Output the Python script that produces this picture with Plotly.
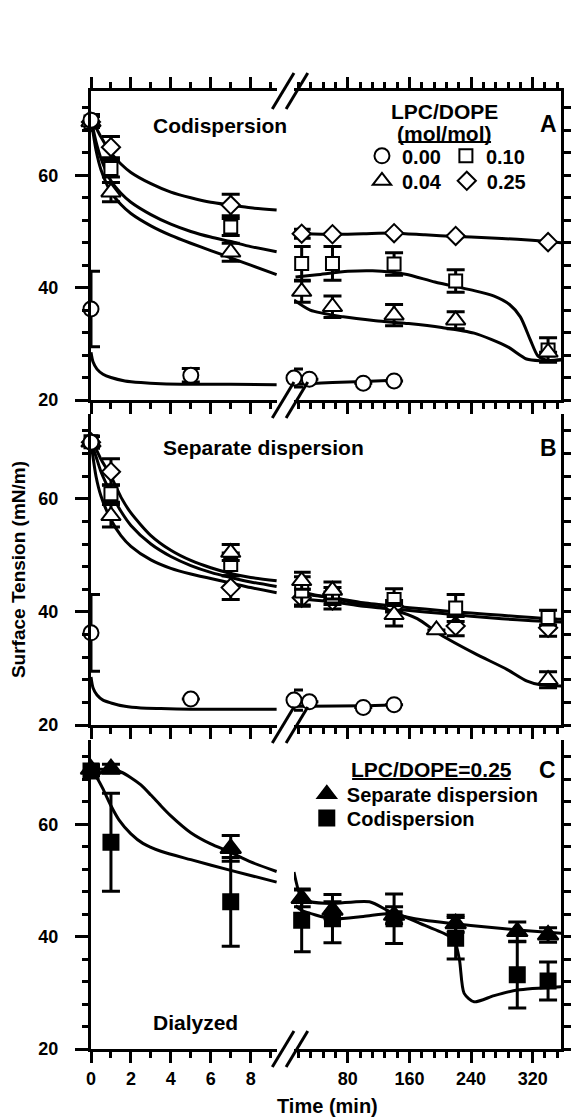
import plotly.graph_objects as go

# ---------------- DATA ----------------
# Panel A: Codispersion (LPC/DOPE mol/mol)
A_T_000 = [0, 0, 5, 10, 30, 100, 140]
A_V_000 = [69.8, 36.2, 24.4, 23.9, 23.7, 23.0, 23.4]
A_E_000 = [1.0, 6.7, 1.2, 1.6, None, None, None]
A_T = [0, 1, 7, 20, 60, 140, 220, 340]
A_V_004 = [69.5, 57.0, 46.3, 39.3, 36.6, 35.1, 34.2, 28.5]
A_E_004 = [1.0, 1.7, 1.6, 1.9, 1.9, 1.9, 1.5, None]
A_V_010 = [69.5, 61.2, 50.8, 44.3, 44.3, 44.2, 41.2, 28.9]
A_E_010 = [1.0, 1.5, 1.5, 3.0, 3.0, 2.0, 2.0, 2.2]
A_V_025 = [69.5, 65.0, 54.7, 49.6, 49.5, 49.7, 49.2, 48.1]
A_E_025 = [1.0, 1.9, 1.9, 0.8, None, None, None, None]

# fitted curves, panel A
CT_L = [0, 0.25, 0.5, 1, 1.5, 2, 3, 4, 5, 6, 7, 8, 9.3]
A_CT_000_L = [0, 0.1, 0.3, 0.6, 1, 1.7, 2.5, 3.5, 5, 7, 9.3]
A_CV_000_L = [28.5, 26.8, 25.5, 24.6, 24.0, 23.4, 23.1, 22.9, 22.8, 22.8, 22.7]
A_CT_000_R = [10, 30, 60, 100, 140]
A_CV_000_R = [22.8, 22.9, 23.1, 23.3, 23.5]
A_CV_025_L = [70, 68.5, 66.8, 64.0, 62.0, 60.5, 58.5, 57.0, 56.0, 55.2, 54.7, 54.2, 53.8]
A_CV_010_L = [70, 66.0, 63.0, 59.0, 56.8, 55.2, 53.0, 51.3, 50.0, 49.0, 48.2, 47.3, 46.4]
A_CV_004_L = [70, 64.5, 61.0, 57.0, 54.8, 53.2, 51.0, 49.3, 47.9, 46.6, 45.3, 44.0, 42.3]
A_CT_025_R = [12, 20, 60, 100, 140, 180, 220, 260, 300, 340, 357]
A_CV_025_R = [49.9, 49.7, 49.5, 49.6, 49.7, 49.4, 49.1, 48.9, 48.6, 48.2, 48.0]
A_CT_010_R = [12, 40, 80, 112, 155, 193, 240, 270, 290, 304, 317, 327, 340, 357]
A_CV_010_R = [41.9, 42.3, 42.9, 43.0, 42.4, 41.0, 39.6, 38.5, 37.0, 34.8, 30.7, 27.8, 27.0, 27.2]
A_CT_004_R = [10, 31, 74, 116, 159, 202, 244, 287, 312, 330, 357]
A_CV_004_R = [37.8, 36.0, 34.8, 34.1, 33.6, 32.9, 31.9, 29.5, 27.3, 27.0, 27.1]

# Panel B: Separate dispersion
B_T_000 = [0, 0, 5, 10, 30, 100, 140]
B_V_000 = [70.0, 36.3, 24.6, 24.4, 24.1, 23.1, 23.6]
B_E_000 = [None, 6.8, None, 1.8, None, None, None]
B_T_004 = [0, 1, 7, 20, 60, 140, 195, 340]
B_V_004 = [70.0, 57.0, 50.5, 45.5, 43.8, 39.5, 36.8, 28.0]
B_E_004 = [1.0, 2.0, 1.4, 1.5, 1.5, 2.0, None, 1.4]
B_T = [0, 1, 7, 20, 60, 140, 220, 340]
B_V_010 = [70.1, 60.9, 48.4, 43.7, 42.8, 42.2, 40.7, 39.0]
B_E_010 = [1.0, 1.5, 2.0, 2.5, 1.5, 1.9, 2.4, 1.3]
B_V_025 = [70.0, 64.8, 44.3, 42.5, 42.0, 41.0, 37.5, 37.2]
B_E_025 = [1.0, 2.3, 2.1, 1.5, 1.5, 1.0, 1.7, 1.5]

B_CV_000_L = [28.5, 26.6, 25.3, 24.4, 23.9, 23.3, 23.0, 22.9, 22.8, 22.8, 22.8]
B_CT_000_R = [10, 30, 100, 140]
B_CV_000_R = [23.3, 23.3, 23.4, 23.6]
B_CV_025_L = [70, 68.8, 67.0, 64.0, 60.3, 57.5, 53.5, 50.9, 49.1, 47.8, 46.8, 46.1, 45.5]
B_CV_010_L = [70, 67.5, 64.8, 61.0, 57.8, 55.3, 52.0, 49.8, 48.2, 47.0, 46.1, 45.3, 44.5]
B_CV_004_L = [70, 64.0, 60.5, 56.3, 53.5, 51.6, 49.2, 47.7, 46.7, 45.9, 45.1, 44.3, 43.4]
B_CT_R = [12, 20, 60, 100, 140, 180, 220, 260, 300, 340, 357]
B_CV_025_R = [42.5, 42.3, 41.8, 41.0, 40.5, 40.0, 39.5, 39.0, 38.6, 38.3, 38.2]
B_CV_010_R = [43.5, 43.2, 42.5, 41.6, 41.0, 40.5, 40.0, 39.6, 39.2, 38.8, 38.7]
B_CT_004_R = [12, 30, 60, 100, 140, 170, 200, 244, 287, 312, 330, 357]
B_CV_004_R = [44.0, 43.2, 42.4, 41.3, 40.3, 38.8, 36.0, 32.7, 29.8, 27.8, 27.1, 26.9]

# Panel C: Dialyzed, LPC/DOPE = 0.25
C_T = [0, 1, 7, 20, 60, 140, 220, 300, 340]
C_V_SEP = [69.8, 69.9, 55.7, 46.8, 44.7, 43.8, 42.3, 40.9, 40.3]
C_E_SEP = [0.8, 0.8, 2.3, 1.5, 1.5, 1.5, 1.5, 1.7, 1.3]
C_V_COD = [69.5, 56.8, 46.2, 42.9, 43.2, 43.2, 39.7, 33.2, 32.1]
C_E_COD = [0.8, 8.7, 7.9, 5.6, 4.3, 4.4, 3.7, 5.9, 3.4]

C_CT_SEP_L = [0, 0.5, 1, 1.5, 2, 2.5, 3, 3.5, 4, 5, 6, 7, 8, 9.3]
C_CV_SEP_L = [69.8, 69.8, 69.7, 69.3, 68.3, 67.0, 65.2, 63.3, 61.5, 58.5, 56.5, 55.0, 53.3, 51.6]
C_CT_COD_L = [0, 0.3, 0.6, 1, 1.4, 2, 2.6, 3.5, 5, 7, 9.3]
C_CV_COD_L = [70, 68.3, 66.3, 63.3, 60.8, 58.3, 56.6, 55.2, 53.7, 51.8, 49.7]
C_CT_SEP_R = [10, 20, 31, 59, 108, 140, 180, 219, 260, 300, 357]
C_CV_SEP_R = [51.5, 46.8, 46.2, 45.9, 46.2, 44.1, 42.9, 42.3, 41.7, 41.2, 40.6]
C_CT_COD_R = [12, 20, 59, 100, 140, 180, 210, 219, 225, 231, 244, 270, 300, 357]
C_CV_COD_R = [45.5, 44.7, 43.2, 43.6, 44.1, 42.0, 40.2, 39.1, 35.8, 29.9, 28.4, 29.5, 30.5, 31.1]

# ---------------- LAYOUT GEOMETRY ----------------
W, H = 579, 1120
ML, MR, MT, MB = 91, 11, 91, 71
PW, PH = W - ML - MR, H - MT - MB


def px(x):
    return (x - ML) / PW


def py(y):
    return (H - MB - y) / PH


LEFT_RANGE = [0, 9.33]
RIGHT_RANGE = [10, 356.8]
LEFT_DOM = [0, px(280)]
RIGHT_DOM = [px(297), 1]
Y_RANGE = [20, 75]
ROW_DOM = {'A': [py(400), py(91)], 'B': [py(725), py(414)], 'C': [py(1049), py(740)]}
AX = {'C': (('x', 'y'), ('x2', 'y4')),
      'B': (('x3', 'y2'), ('x4', 'y5')),
      'A': (('x5', 'y3'), ('x6', 'y6'))}

FONT = 'Liberation Sans, Arial, Helvetica, sans-serif'
LW = 3

STY = {
    '000': dict(symbol='circle', size=15, color='white'),
    '004': dict(symbol='triangle-up', size=17, color='white'),
    '010': dict(symbol='square', size=13, color='white'),
    '025': dict(symbol='diamond', size=14, color='white'),
    'sep': dict(symbol='triangle-up', size=18, color='black'),
    'cod': dict(symbol='square', size=15, color='black'),
}

fig = go.Figure()


def curve(panel, side, t, v):
    xa, ya = AX[panel][side]
    fig.add_trace(go.Scatter(x=t, y=v, mode='lines', xaxis=xa, yaxis=ya,
                             line=dict(color='black', width=LW, shape='spline', smoothing=0.7),
                             showlegend=False, hoverinfo='skip'))


def points(panel, t, v, e, key, name=None, legend=None):
    for side in (0, 1):
        idx = [i for i, x in enumerate(t) if (x < 9.5) == (side == 0)]
        if not idx:
            continue
        xa, ya = AX[panel][side]
        st = STY[key]
        show = (legend is not None and side == 0)
        fig.add_trace(go.Scatter(
            x=[t[i] for i in idx], y=[v[i] for i in idx], mode='markers',
            xaxis=xa, yaxis=ya, cliponaxis=False,
            marker=dict(symbol=st['symbol'], size=st['size'], color=st['color'],
                        line=dict(color='black', width=2)),
            error_y=dict(type='data', array=[e[i] for i in idx], visible=True,
                         color='black', thickness=LW, width=9),
            name=name, showlegend=show, legend=legend if legend else 'legend'))


# Panel A curves
curve('A', 0, A_CT_000_L, A_CV_000_L)
curve('A', 1, A_CT_000_R, A_CV_000_R)
curve('A', 0, CT_L, A_CV_025_L)
curve('A', 0, CT_L, A_CV_010_L)
curve('A', 0, CT_L, A_CV_004_L)
curve('A', 1, A_CT_025_R, A_CV_025_R)
curve('A', 1, A_CT_010_R, A_CV_010_R)
curve('A', 1, A_CT_004_R, A_CV_004_R)
# Panel B curves
curve('B', 0, A_CT_000_L, B_CV_000_L)
curve('B', 1, B_CT_000_R, B_CV_000_R)
curve('B', 0, CT_L, B_CV_025_L)
curve('B', 0, CT_L, B_CV_010_L)
curve('B', 0, CT_L, B_CV_004_L)
curve('B', 1, B_CT_R, B_CV_025_R)
curve('B', 1, B_CT_R, B_CV_010_R)
curve('B', 1, B_CT_004_R, B_CV_004_R)
# Panel C curves
curve('C', 0, C_CT_SEP_L, C_CV_SEP_L)
curve('C', 0, C_CT_COD_L, C_CV_COD_L)
curve('C', 1, C_CT_SEP_R, C_CV_SEP_R)
curve('C', 1, C_CT_COD_R, C_CV_COD_R)

# markers
points('A', A_T, A_V_025, A_E_025, '025', '0.25', 'legend2')
points('A', A_T, A_V_010, A_E_010, '010', '0.10', 'legend')
points('A', A_T, A_V_004, A_E_004, '004', '0.04', 'legend2')
points('A', A_T_000, A_V_000, A_E_000, '000', '0.00', 'legend')

points('B', B_T, B_V_025, B_E_025, '025')
points('B', B_T, B_V_010, B_E_010, '010')
points('B', B_T_004, B_V_004, B_E_004, '004')
points('B', B_T_000, B_V_000, B_E_000, '000')

points('C', C_T, C_V_COD, C_E_COD, 'cod', 'Codispersion', 'legend4')
points('C', C_T, C_V_SEP, C_E_SEP, 'sep', 'Separate dispersion', 'legend3')

# ---------------- AXES ----------------
tickfont = dict(family=FONT, size=18, color='black', weight='bold')
layout_axes = {}


def axname(a):
    return ('xaxis' if a[0] == 'x' else 'yaxis') + a[1:]


for panel, ((xl, yl), (xr, yr)) in AX.items():
    common = dict(showline=True, linewidth=LW, linecolor='black', showgrid=False,
                  zeroline=False, ticks='outside', tickwidth=LW, tickcolor='black',
                  tickfont=tickfont, fixedrange=True)
    mirror = 'ticks' if panel == 'A' else False
    layout_axes[axname(xl)] = dict(common, domain=LEFT_DOM, range=LEFT_RANGE, anchor=yl,
                                   tickmode='linear', tick0=0, dtick=2, ticklen=11,
                                   minor=dict(ticks='outside', tick0=0, dtick=1, ticklen=6,
                                              tickwidth=LW, tickcolor='black'),
                                   showticklabels=(panel == 'C'), ticklabelstandoff=0,
                                   mirror=mirror)
    layout_axes[axname(xr)] = dict(common, domain=RIGHT_DOM, range=RIGHT_RANGE, anchor=yr,
                                   tickmode='linear', tick0=0, dtick=80, ticklen=11,
                                   minor=dict(ticks='outside', tick0=0, dtick=16, ticklen=6,
                                              tickwidth=LW, tickcolor='black'),
                                   showticklabels=(panel == 'C'), ticklabelstandoff=0,
                                   mirror=mirror)
    layout_axes[axname(yl)] = dict(common, domain=ROW_DOM[panel], range=Y_RANGE, anchor=xl,
                                   side='left', tickmode='linear', tick0=0, dtick=20,
                                   ticklen=13,
                                   minor=dict(ticks='outside', tick0=0, dtick=4, ticklen=6,
                                              tickwidth=LW, tickcolor='black'),
                                   ticklabelstandoff=13)
    layout_axes[axname(yr)] = dict(common, domain=ROW_DOM[panel], range=Y_RANGE, anchor=xr,
                                   side='right', tickmode='linear', tick0=0, dtick=20,
                                   ticklen=7,
                                   minor=dict(ticks='outside', tick0=0, dtick=4, ticklen=7,
                                              tickwidth=LW, tickcolor='black'),
                                   showticklabels=False)

# ---------------- ANNOTATIONS ----------------
def note(text, x, y, size=21, angle=0):
    return dict(text=text, x=px(x), y=py(y), xref='paper', yref='paper',
                xanchor='center', yanchor='middle', showarrow=False, textangle=angle,
                font=dict(family=FONT, size=size, color='black', weight='bold'))


annotations = [
    note('Codispersion', 222, 125),
    note('Separate dispersion', 266, 447),
    note('Dialyzed', 197.5, 1022.5),
    note('LPC/DOPE', 450, 111),
    note('(mol/mol)', 450, 134),
    note('A', 555, 124, 23),
    note('B', 555, 448, 23),
    note('C', 554, 770, 23),
    note('LPC/DOPE=0.25', 436.7, 769),
    note('Time (min)', 331, 1106, 20),
    note('Surface Tension (mN/m)', 17, 570, 19, -90),
]

# ---------------- SHAPES (underlines, axis breaks) ----------------
def seg(x0, y0, x1, y1, w=LW):
    return dict(type='line', xref='paper', yref='paper', x0=px(x0), y0=py(y0),
                x1=px(x1), y1=py(y1), line=dict(color='black', width=w))


shapes = [seg(403, 142, 497, 142, 2), seg(356, 779, 517, 779, 2)]
for yb in (91, 400, 725, 1049):
    for xc in (286, 300):
        shapes.append(seg(xc - 11, yb + 18, xc + 11, yb - 18))

# ---------------- LEGENDS ----------------
def leg(x, y):
    return dict(x=px(x), y=py(y), xanchor='left', yanchor='middle', orientation='h',
                bgcolor='rgba(0,0,0,0)', borderwidth=0, itemclick=False,
                itemdoubleclick=False, traceorder='reversed',
                font=dict(family=FONT, size=20, color='black', weight='bold'))


fig.update_layout(
    width=W, height=H, margin=dict(l=ML, r=MR, t=MT, b=MB, pad=0),
    paper_bgcolor='white', plot_bgcolor='white',
    font=dict(family=FONT, size=17, color='black', weight='bold'),
    annotations=annotations, shapes=shapes,
    legend=leg(366, 155.8), legend2=leg(366, 180.8),
    legend3=leg(310, 794), legend4=leg(310, 818),
    **layout_axes,
)

fig.write_html('out.html')
